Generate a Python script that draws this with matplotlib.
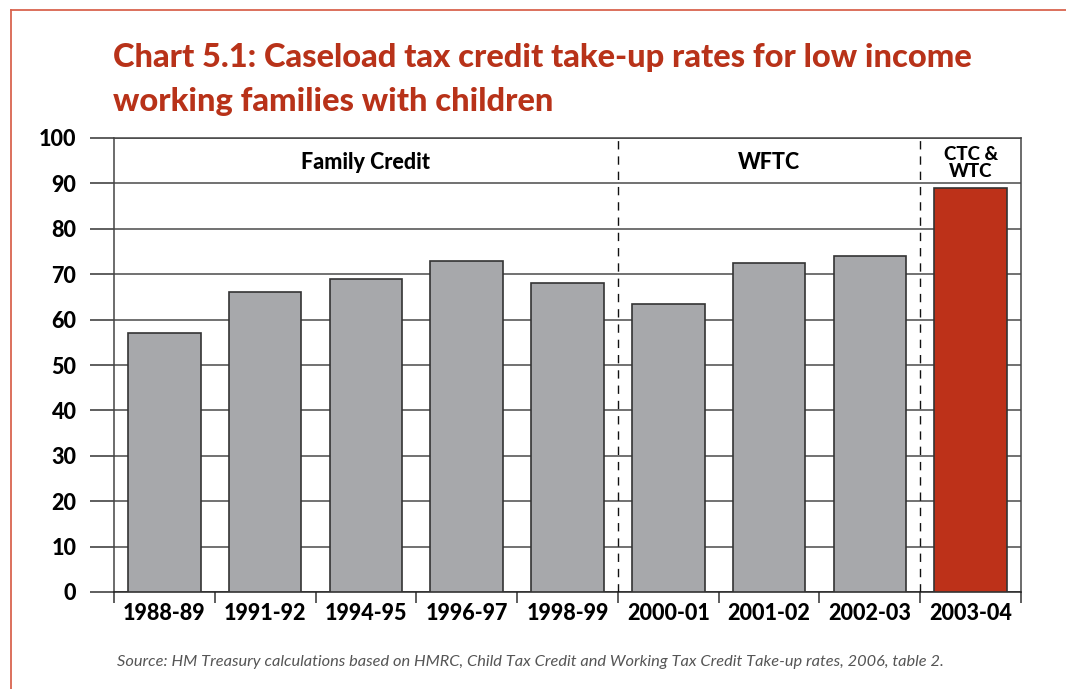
import numpy as np
import matplotlib.pyplot as plt
from matplotlib.lines import Line2D

# Take-up rates (%) by year
years = ["1988-89", "1991-92", "1994-95", "1996-97", "1998-99",
         "2000-01", "2001-02", "2002-03", "2003-04"]
take_up = [57, 66, 69, 73, 68, 63.5, 72.5, 74, 89]
bar_colors = ["#a7a8ab"] * 8 + ["#bd3119"]

# Scheme periods: (label, first index, last index)
schemes = [("Family Credit", 0, 4), ("WFTC", 5, 7), ("CTC &\nWTC", 8, 8)]

plt.rcParams['font.family'] = ['Lato', 'DejaVu Sans']

fig = plt.figure(figsize=(10.66, 6.89), dpi=100)

# red frame lines along top and left edges
frame_col = "#d9644f"
fig.add_artist(Line2D([11 / 1066, 1.0], [1 - 10 / 689, 1 - 10 / 689],
                      color=frame_col, lw=1.3, transform=fig.transFigure))
fig.add_artist(Line2D([11 / 1066, 11 / 1066], [0, 1 - 10 / 689],
                      color=frame_col, lw=1.3, transform=fig.transFigure))

title_kw = dict(color="#b83219", fontsize=23.5, fontweight="black", va="center")
fig.text(113 / 1066, 1 - 57 / 689,
         "Chart 5.1: Caseload tax credit take-up rates for low income",
         **title_kw)
fig.text(113 / 1066, 1 - 101 / 689, "working families with children",
         **title_kw)

ax = fig.add_axes([114 / 1066, 1 - 592 / 689, 907 / 1066, 454 / 689])

x = np.arange(len(years))
ax.bar(x, take_up, width=0.72, color=bar_colors, edgecolor="#333333",
       linewidth=1.2, zorder=3)

ax.set_xlim(-0.5, len(years) - 0.5)
ax.set_ylim(0, 100)

# horizontal gridlines
ax.set_yticks(np.arange(0, 101, 10))
ax.yaxis.grid(True, color="#4a4a4a", lw=1.1, zorder=0)
ax.set_axisbelow(True)

# y tick labels and ticks
ax.tick_params(axis="y", length=17, width=1.1, color="#333333", pad=10,
               labelsize=15.5)
for lab in ax.get_yticklabels():
    lab.set_fontweight("black")

# x: labels at centres, tick marks at boundaries
ax.set_xticks(x)
ax.set_xticklabels(years, fontsize=15.5, fontweight="black")
ax.tick_params(axis="x", length=0, pad=8)
ax.set_xticks(np.arange(-0.5, len(years), 1), minor=True)
ax.tick_params(axis="x", which="minor", length=8, width=1.1, color="#333333")

for side in ["left", "right", "top", "bottom"]:
    ax.spines[side].set_color("#444444")
    ax.spines[side].set_linewidth(1.1)
ax.spines["bottom"].set_color("#222222")

# dashed dividers between schemes
for _, first, last in schemes[1:]:
    ax.axvline(first - 0.5, color="#111111", lw=1.0, ls=(0, (6, 5)), zorder=4)

# scheme labels in the top band
for name, first, last in schemes:
    cx = (first + last) / 2
    if "\n" in name:
        ax.text(cx, 94.6, name, ha="center", va="center", fontsize=13.5,
                fontweight="black", linespacing=1.0, zorder=5)
    else:
        ax.text(cx, 94.5, name, ha="center", va="center", fontsize=15.5,
                fontweight="black", zorder=5)

fig.text(117 / 1066, 1 - 662 / 689,
         "Source: HM Treasury calculations based on HMRC, Child Tax Credit and "
         "Working Tax Credit Take-up rates, 2006, table 2.",
         fontsize=11.8, style="italic", color="#555555", va="center")

fig.savefig("out.png", dpi=100)
